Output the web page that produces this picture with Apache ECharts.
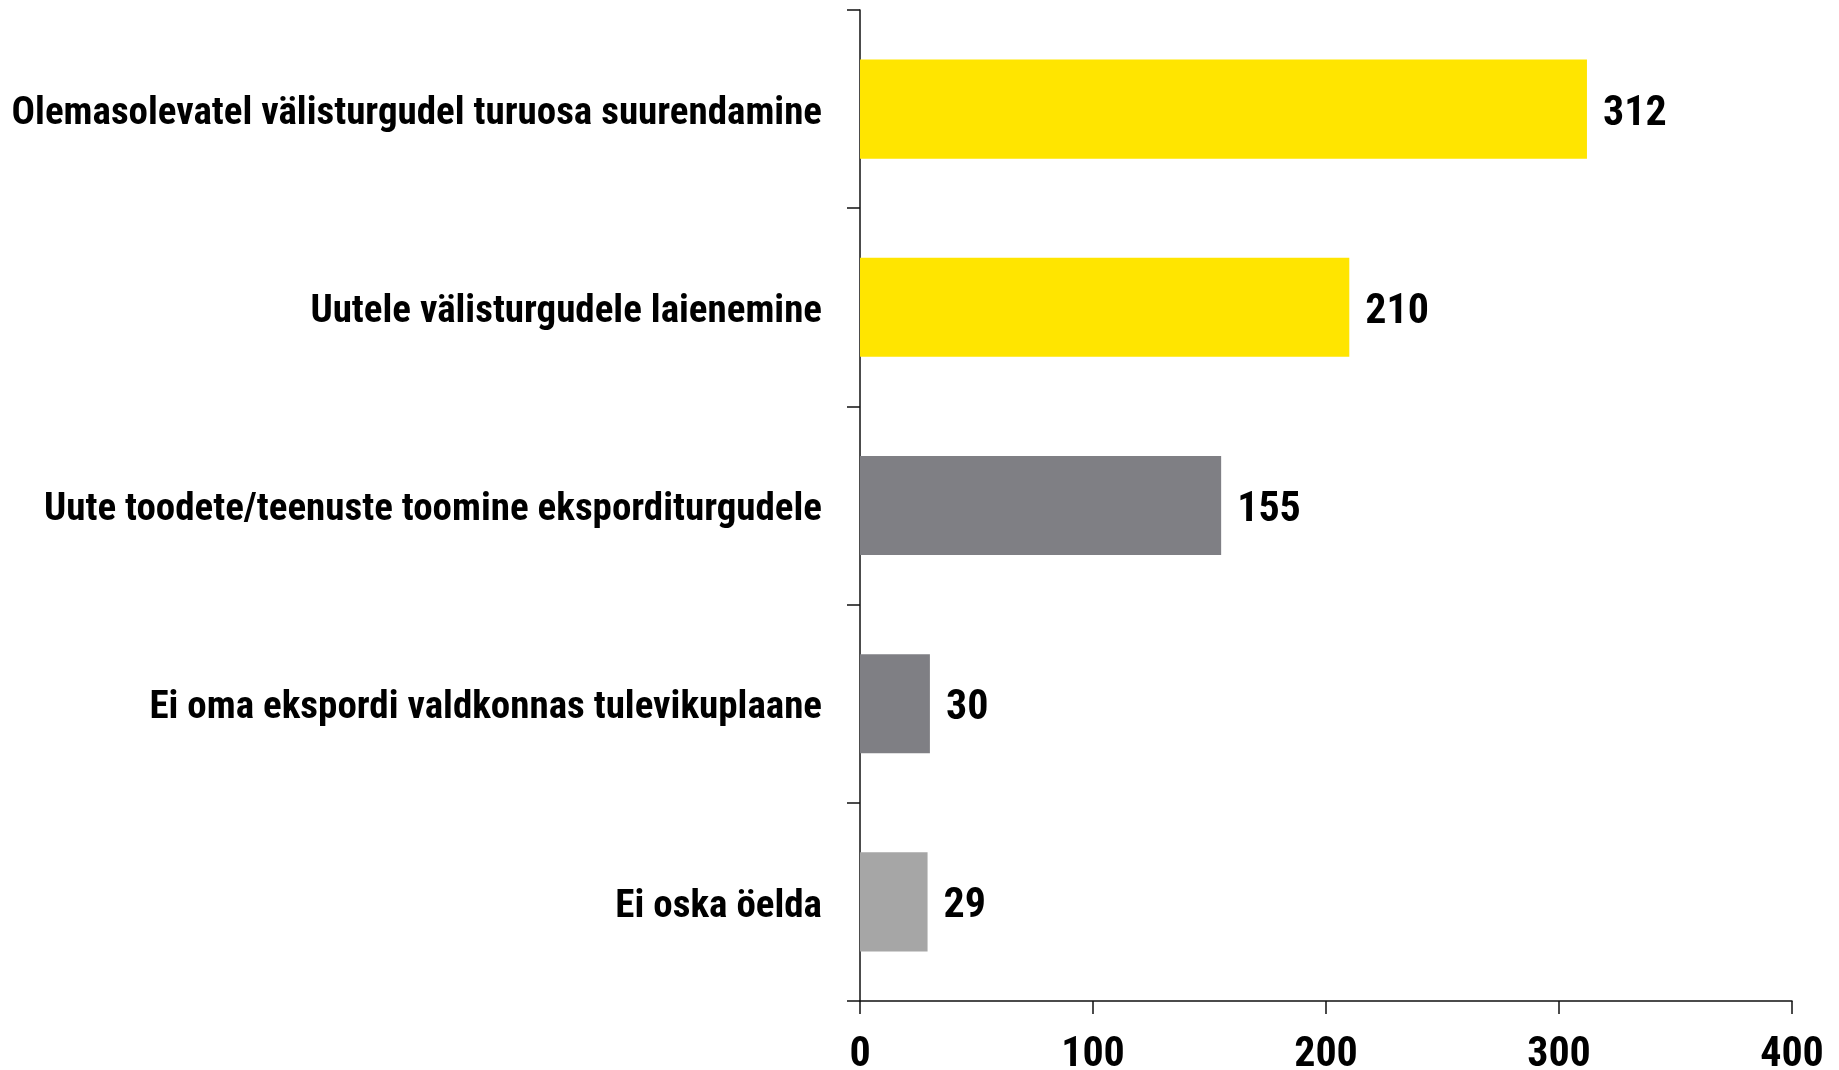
<!DOCTYPE html>
<html>
<head>
<meta charset="utf-8">
<script src="https://cdn.jsdelivr.net/npm/echarts@6/dist/echarts.min.js"></script>
<style>
  html, body { margin: 0; padding: 0; background: #fff; }
  #chart { width: 1839px; height: 1070px; }
</style>
</head>
<body>
<div id="chart"></div>
<script>
// andmed
const categories = [
  "Olemasolevatel välisturgudel turuosa suurendamine",
  "Uutele välisturgudele laienemine",
  "Uute toodete/teenuste toomine eksporditurgudele",
  "Ei oma ekspordi valdkonnas tulevikuplaane",
  "Ei oska öelda"
];
const values = [312, 210, 155, 30, 29];
const barColors = ["#FFE500", "#FFE500", "#7F7F84", "#7F7F84", "#A6A6A6"];
const xTicks = [0, 100, 200, 300, 400];

const fontFamily = '"Roboto Condensed", "Open Sans Condensed", sans-serif';

const myChart = echarts.init(document.getElementById("chart"));

const option = {
  animation: false,
  grid: {
    left: 860,
    right: 47,
    top: 10,
    bottom: 69,
    outerBoundsMode: "none",
    containLabel: false
  },
  xAxis: {
    type: "value",
    min: xTicks[0],
    max: xTicks[xTicks.length - 1],
    interval: xTicks[1] - xTicks[0],
    axisLine: { show: true, lineStyle: { color: "#111", width: 1.5 } },
    axisTick: { show: true, length: 13, lineStyle: { color: "#111", width: 1.5 } },
    splitLine: { show: false },
    axisLabel: {
      color: "#000",
      fontFamily: fontFamily,
      fontWeight: "bold",
      fontSize: 42,
      margin: 33
    }
  },
  yAxis: {
    type: "category",
    inverse: true,
    data: categories,
    axisLine: { show: true, lineStyle: { color: "#111", width: 1.5 } },
    axisTick: { show: true, length: 13, lineStyle: { color: "#111", width: 1.5 } },
    axisLabel: {
      margin: 38,
      formatter: (v) => "{c|" + v + "}",
      rich: {
        c: {
          color: "#000",
          fontFamily: fontFamily,
          fontWeight: "bold",
          fontSize: 39,
          padding: [10, 0, 0, 0]
        }
      }
    }
  },
  series: [
    {
      type: "bar",
      data: values.map((v, i) => ({ value: v, itemStyle: { color: barColors[i] } })),
      barCategoryGap: "50%",
      label: {
        show: true,
        position: "right",
        distance: 16,
        offset: [0, 5],
        color: "#000",
        fontFamily: fontFamily,
        fontWeight: "bold",
        fontSize: 42
      }
    }
  ]
};

myChart.setOption(option);
window.addEventListener("resize", () => {
  myChart.resize();
});
</script>
</body>
</html>
